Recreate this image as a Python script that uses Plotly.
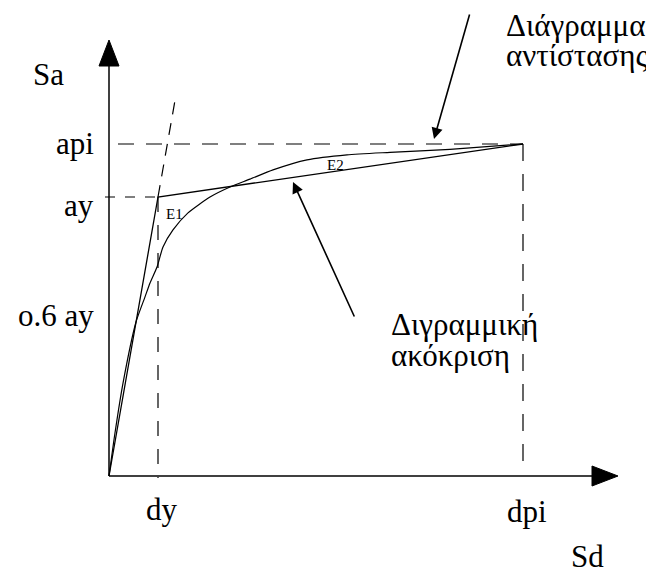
import plotly.graph_objects as go

# ---------------- data (Sd in units of dy, Sa in units of ay) ----------------
sd_curve = [0, 0.122, 0.286, 0.551, 0.735, 0.837, 0.980, 1.102, 1.306, 1.612,
            2.061, 2.469, 2.878, 3.347, 4.041, 4.857, 5.735, 6.959, 8.449]
sa_curve = [0, 0.154, 0.333, 0.552, 0.642, 0.692, 0.749, 0.821, 0.882, 0.943,
            1.000, 1.036, 1.064, 1.097, 1.133, 1.151, 1.160, 1.171, 1.190]

dy, ay = 1.0, 1.0
dpi, api = 8.449, 1.190
sd_bilinear = [0, dy, dpi]
sa_bilinear = [0, ay, api]
sd_elastic_ext = [dy, 1.367]
sa_elastic_ext = [ay, 1.366]

tick_labels_y = ["api", "ay", "o.6 ay"]
tick_values_y = [api, ay, 0.6 * ay]
tick_labels_x = ["dy", "dpi"]
tick_values_x = [dy, dpi]

# ---------------- layout frame ----------------
# The page body has an 8px margin, so the figure is 8px smaller and the
# visible window (0..654, 0..574) maps onto the figure from pixel 8 onward.
WIN_W, WIN_H, OFF = 654, 574, 8
W, H = WIN_W - OFF, WIN_H - OFF
PX0, PY0 = 109, 476          # origin in window pixels
SX, SY = 49.0, 279.0         # pixels per unit
xr = [(OFF - PX0) / SX, (WIN_W - PX0) / SX]
yr = [(PY0 - WIN_H) / SY, (PY0 - OFF) / SY]

def px(x):   # window pixel -> Sd
    return (x - PX0) / SX

def py(y):   # window pixel -> Sa
    return (PY0 - y) / SY

FONT = "serif"
BLACK = "#000000"

fig = go.Figure()

def line(x, y, dash="solid", width=1.2, shape="linear"):
    fig.add_trace(go.Scatter(x=x, y=y, mode="lines", hoverinfo="skip",
                             line=dict(color=BLACK, width=width, dash=dash, shape=shape,
                                       smoothing=0.6 if shape == "spline" else None),
                             showlegend=False))

# axes
x_end, x_tip = px(592), px(618)
y_end, y_tip = py(66), py(40)
line([0, x_end], [0, 0], width=1.5)
line([0, 0], [0, y_end], width=1.5)
fig.add_trace(go.Scatter(x=[x_end, x_tip, x_end, x_end], y=[py(PY0 - 10), 0, py(PY0 + 10), py(PY0 - 10)],
                         mode="lines", fill="toself", fillcolor=BLACK,
                         line=dict(color=BLACK, width=1), hoverinfo="skip", showlegend=False))
fig.add_trace(go.Scatter(x=[px(PX0 - 10), 0, px(PX0 + 10), px(PX0 - 10)], y=[y_end, y_tip, y_end, y_end],
                         mode="lines", fill="toself", fillcolor=BLACK,
                         line=dict(color=BLACK, width=1), hoverinfo="skip", showlegend=False))

# dashed guides
line([px(105), dy], [ay, ay], dash="10px,10px")
line([px(118), dpi], [api, api], dash="16px,12px")
line([dy, dy], [ay, py(478)], dash="15px,13px")
line([dpi, dpi], [api, py(463)], dash="17px,13px")
line(sd_elastic_ext, sa_elastic_ext, dash="12px,9px")

# bilinear and capacity curve
line(sd_bilinear, sa_bilinear, width=1.3)
line(sd_curve, sa_curve, width=1.2, shape="spline")

anns = []

def text(x, y, s, size, xanchor="center"):
    anns.append(dict(x=px(x), y=py(y), xref="x", yref="y", text=s, showarrow=False,
                     xanchor=xanchor, yanchor="middle",
                     font=dict(family=FONT, size=size, color=BLACK)))

LBL = 31
# y tick labels (right aligned at the given pixel x, tied to data values)
for lab, v, yoff in zip(tick_labels_y, tick_values_y, [0, 8, 7]):
    anns.append(dict(x=px(96), y=v - yoff / SY, xref="x", yref="y", text=lab, showarrow=False,
                     xanchor="right", yanchor="middle",
                     font=dict(family=FONT, size=LBL, color=BLACK)))
# x tick labels
for lab, v, yy in zip(tick_labels_x, tick_values_x, [509, 511]):
    anns.append(dict(x=v + 0.08, y=py(yy), xref="x", yref="y", text=lab, showarrow=False,
                     xanchor="center", yanchor="middle",
                     font=dict(family=FONT, size=LBL, color=BLACK)))
# axis titles
text(31, 74, "Sa", LBL, "left")
text(587, 556, "Sd", LBL)
# area labels
text(174, 214, "E1", 15)
text(335, 165, "E2", 15)
# descriptive labels
GR = 31
text(504, 25, "Διάγραμμα", GR, "left")
text(504, 55, "αντίστασης", GR, "left")
text(389, 324, "Διγραμμική", GR, "left")
text(389, 355, "ακόκριση", GR, "left")

# pointer arrows
anns.append(dict(x=px(434), y=py(139), ax=px(470), ay=py(13), xref="x", yref="y", axref="x", ayref="y",
                 text="", showarrow=True, arrowhead=2, arrowsize=1.4, arrowwidth=1.6, arrowcolor=BLACK))
anns.append(dict(x=px(293), y=py(182), ax=px(355), ay=py(318), xref="x", yref="y", axref="x", ayref="y",
                 text="", showarrow=True, arrowhead=2, arrowsize=1.4, arrowwidth=1.6, arrowcolor=BLACK))

fig.update_layout(
    width=W, height=H, margin=dict(l=0, r=0, t=0, b=0),
    font=dict(family=FONT, color=BLACK),
    paper_bgcolor="white", plot_bgcolor="white",
    xaxis=dict(range=xr, visible=False, fixedrange=True),
    yaxis=dict(range=yr, visible=False, fixedrange=True),
    annotations=anns, showlegend=False,
)

fig.write_html("out.html", config={"displayModeBar": False})
